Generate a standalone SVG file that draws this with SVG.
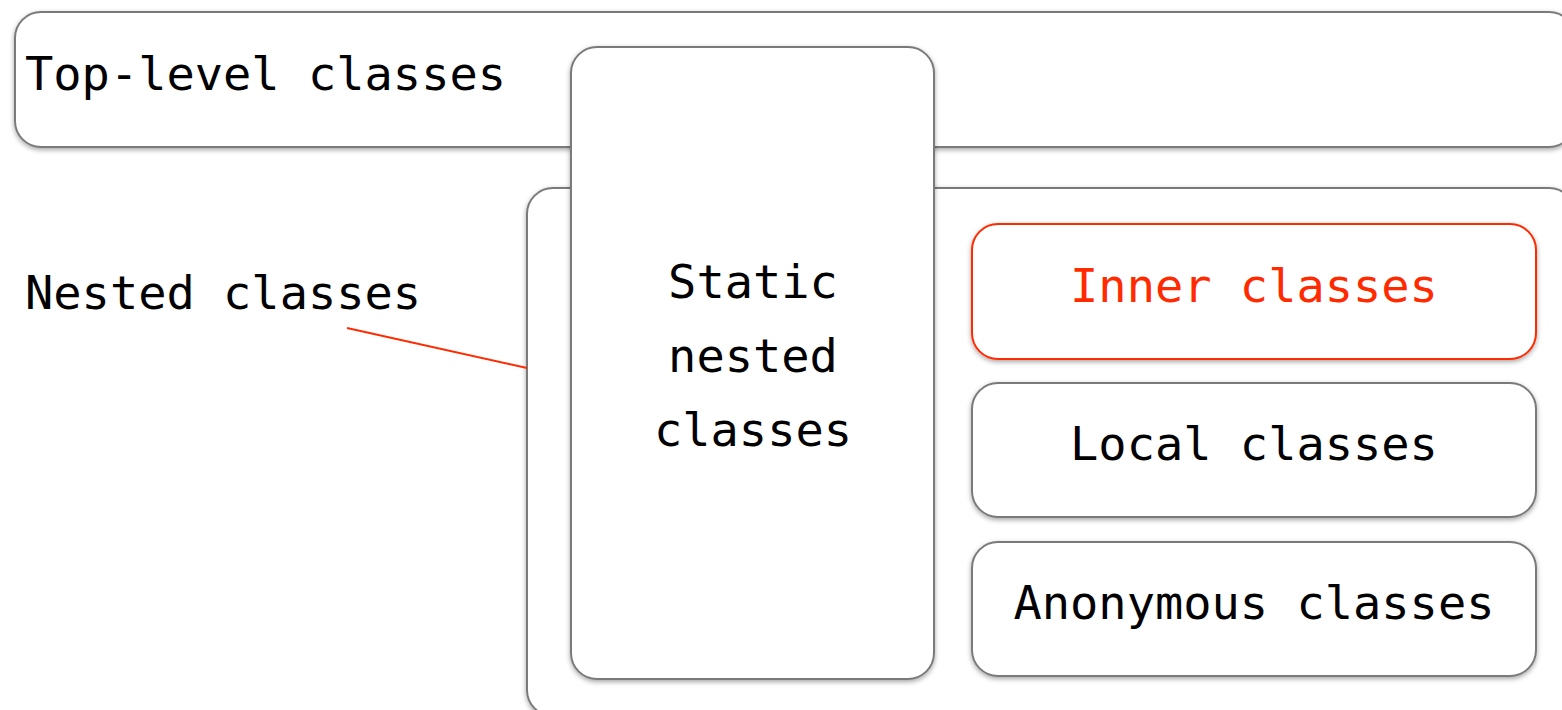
<svg xmlns="http://www.w3.org/2000/svg" width="1562" height="710" viewBox="0 0 1562 710">
<defs>
<filter id="sh" x="-5%" y="-5%" width="110%" height="115%">
<feDropShadow dx="0" dy="2" stdDeviation="2.5" flood-color="#000" flood-opacity="0.35"/>
</filter>
<style>
.box{fill:#fff;stroke:#7a7a7a;stroke-width:2;filter:url(#sh)}
.red{stroke:#ff2a00}
text{font-family:"DejaVu Sans Mono","Liberation Mono",monospace;font-size:47px;fill:#000}
.c{text-anchor:middle}
.rt{fill:#ff2a00}
</style>
</defs>
<g id="top-level">
<rect class="box" x="15" y="12" width="1560" height="135" rx="26"/>
<text x="25" y="90">Top-level classes</text>
</g>
<g id="nested">
<rect class="box" x="527" y="188" width="1048" height="528" rx="26"/>
<text x="25" y="309">Nested classes</text>
</g>
<g id="static-nested">
<rect class="box" x="571" y="47" width="363" height="632" rx="26"/>
<text class="c" x="753" y="298">Static</text>
<text class="c" x="753" y="372">nested</text>
<text class="c" x="753" y="446">classes</text>
</g>
<g id="inner">
<rect class="box red" x="972" y="224" width="564" height="135" rx="26"/>
<text class="c rt" x="1254" y="302">Inner classes</text>
</g>
<g id="local">
<rect class="box" x="972" y="383" width="564" height="134" rx="26"/>
<text class="c" x="1254" y="460">Local classes</text>
</g>
<g id="anonymous">
<rect class="box" x="972" y="542" width="564" height="134" rx="26"/>
<text class="c" x="1254" y="619">Anonymous classes</text>
</g>
<g id="connectors">
<line x1="347" y1="328" x2="527" y2="368" stroke="#ff2a00" stroke-width="2"/>
</g>
</svg>
